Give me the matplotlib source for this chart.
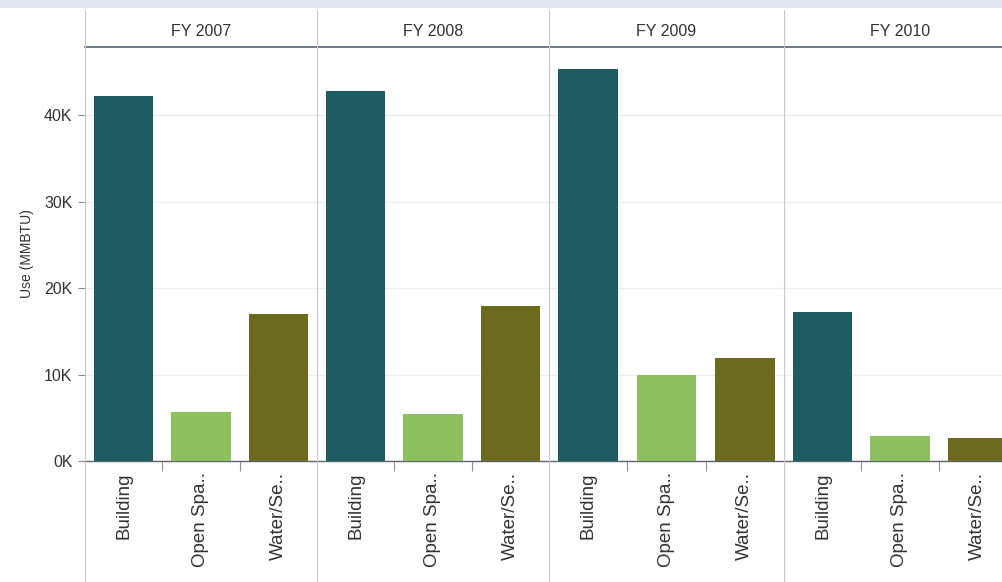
import matplotlib
matplotlib.use("Agg")
import matplotlib.pyplot as plt
from matplotlib.lines import Line2D
from matplotlib.patches import Rectangle

plt.rcParams["font.family"] = ["Liberation Sans", "DejaVu Sans"]

years = ["FY 2007", "FY 2008", "FY 2009", "FY 2010"]
categories = ["Building", "Open Spa..", "Water/Se.."]
building = [42200, 42800, 45400, 17200]
open_space = [5700, 5400, 10000, 2900]
water_sewer = [17000, 17900, 11900, 2700]
colors = ["#1d5c63", "#8dc15f", "#6c6a1c"]

W, H = 1003, 582
fig = plt.figure(figsize=(W / 100, H / 100), dpi=100)

panel_x = [85, 317, 549, 784]
panel_w = [232, 232, 235, 232]
axis_y, top_y = 461, 47
text_c = "#333333"
div_c = "#c8c8c8"

# faint band along the top edge
fig.add_artist(Rectangle((0, 1 - 8 / H), 1, 8 / H, transform=fig.transFigure,
                         color="#dfe5f1", lw=0))

for i, year in enumerate(years):
    x0, pw = panel_x[i], panel_w[i]
    ax = fig.add_axes([x0 / W, (H - axis_y) / H, pw / W, (axis_y - top_y) / H])
    vals = [building[i], open_space[i], water_sewer[i]]
    ax.bar(range(3), vals, width=0.77 * 232 / pw, color=colors, zorder=3)
    ax.set_xlim(-0.5, 2.5)
    ax.set_ylim(0, 47900)
    ax.set_yticks([0, 10000, 20000, 30000, 40000])
    ax.yaxis.grid(True, color="#ececec", lw=0.8, zorder=0)
    for s in ("left", "right", "top"):
        ax.spines[s].set_visible(False)
    ax.spines["bottom"].set_color("#5a6270")
    ax.spines["bottom"].set_linewidth(1.0)
    ax.spines["bottom"].set_zorder(2)
    # ticks sit between the categories, labels under each bar
    ax.set_xticks([0.5, 1.5])
    ax.set_xticklabels([])
    ax.set_xticks([0, 1, 2], minor=True)
    ax.set_xticklabels(categories, minor=True, rotation=90, fontsize=13.5,
                       color=text_c, va="top")
    ax.tick_params(axis="x", which="major", length=7, color="#8a8a8a", width=0.8)
    ax.tick_params(axis="x", which="minor", length=0, pad=8)
    if i == 0:
        ax.set_yticklabels(["0K", "10K", "20K", "30K", "40K"])
        ax.tick_params(axis="y", length=5, color="#8a8a8a", labelsize=11.5,
                       labelcolor=text_c, pad=4)
        ax.set_ylabel("Use (MMBTU)", fontsize=10, color=text_c, labelpad=7)
    else:
        ax.tick_params(axis="y", length=0, labelleft=False)
    fig.text((x0 + pw / 2) / W, 1 - 32 / H, year, ha="center", va="center",
             fontsize=11.5, color=text_c)

# header rule and panel dividers
fig.add_artist(Line2D([panel_x[0] / W, 1], [1 - top_y / H] * 2, color="#4a5468", lw=1.1))
for x0 in panel_x:
    fig.add_artist(Line2D([x0 / W, x0 / W], [0, 1 - 10 / H], color=div_c, lw=0.8))

fig.savefig("out.png", dpi=100)
